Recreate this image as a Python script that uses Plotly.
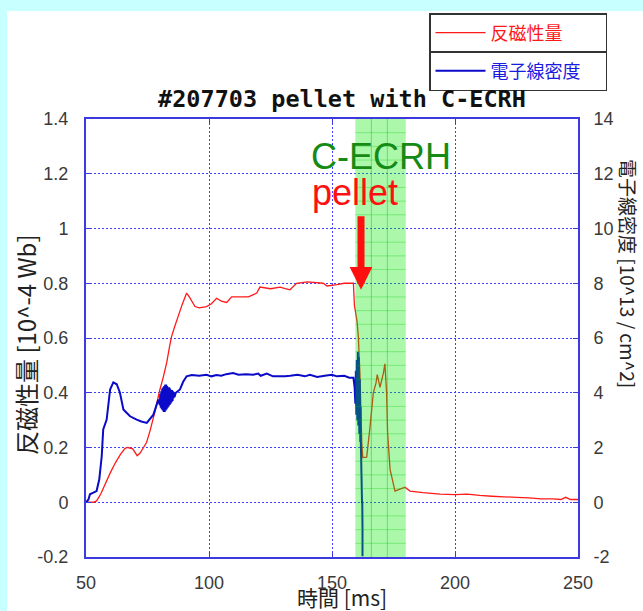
import plotly.graph_objects as go

# ---- data ----
t_red = [50, 53, 54.3, 56, 58, 60, 62, 64, 65.9, 67, 69, 70.8, 72, 74.6, 76, 78, 80, 81.5, 82.8, 84,
         84.8, 86, 87.5, 89, 90.9, 92, 94.3, 96, 99, 101, 103.1, 105, 107.2, 109.2, 112.6, 116, 119.4,
         120.7, 125, 128.9, 131, 132.9, 135.6, 140, 146.4, 148, 152, 155, 158.7, 159.1, 160.2, 160.7,
         161.4, 162.1, 162.5, 164.1, 165.4, 166.8, 167.9, 168.4, 169.5, 170.9, 171.5, 172.2, 172.6,
         173.6, 175.6, 177.6, 179.7, 181.7, 187, 193.9, 200, 205, 210, 215, 220, 225, 230, 235, 240,
         243, 245, 247, 250, 250]
v_red = [0, 0, 0.005, 0.03, 0.07, 0.11, 0.145, 0.175, 0.197, 0.2, 0.195, 0.17, 0.18, 0.218, 0.26,
         0.33, 0.41, 0.46, 0.51, 0.57, 0.606, 0.64, 0.68, 0.72, 0.764, 0.75, 0.715, 0.71, 0.715, 0.725,
         0.745, 0.735, 0.73, 0.75, 0.75, 0.75, 0.764, 0.786, 0.78, 0.786, 0.78, 0.776, 0.80, 0.805,
         0.80, 0.79, 0.795, 0.80, 0.80, 0.72, 0.66, 0.606, 0.46, 0.217, 0.163, 0.165, 0.27, 0.40,
         0.436, 0.466, 0.42, 0.472, 0.506, 0.40, 0.254, 0.12, 0.041, 0.048, 0.055, 0.041, 0.035, 0.03,
         0.028, 0.03, 0.025, 0.022, 0.02, 0.018, 0.016, 0.012, 0.012, 0.01, 0.018, 0.01, 0.01, 0.01]

t_blue = [50, 51, 51.6, 53, 54.3, 55.4, 56.4, 57, 58.4, 59.8, 61.1, 62.5, 63.8, 65.2, 66.5, 67.9,
          70.6, 72.5, 74.7, 77.4, 79.4,
          80.0, 80.2, 80.4, 80.6, 80.8, 81.0, 81.2, 81.4, 81.6, 81.8, 82.0, 82.2, 82.4, 82.6, 82.8,
          83.0, 83.2, 83.4, 83.6, 83.8, 84.0, 84.2, 84.4, 84.6, 84.8, 85.0, 85.2, 85.4, 85.6, 85.8,
          86.0, 86.5,
          88.2, 89.5, 90.9, 93, 96, 99, 101, 103, 105, 107, 109.8, 112, 115, 118, 120, 121, 123.5,
          126, 128.9, 131, 133, 136, 139, 141, 144, 147, 150, 152, 155, 157, 158.7, 159.2, 159.5,
          159.7, 159.9, 160.1, 160.3, 160.5, 160.7, 160.9, 161.1, 161.3, 161.5, 161.6, 161.7,
          162.2, 162.3, 162.4, 162.4]
v_blue = [0, 0.1, 0.29, 0.35, 0.41, 0.84, 1.69, 2.66, 3.02, 4.12, 4.38, 4.31, 4.0, 3.39, 3.27, 3.14,
          3.02, 2.95, 2.90, 3.2, 3.75,
          3.55, 3.95, 3.45, 4.05, 3.4, 4.15, 3.35, 4.2, 3.3, 4.25, 3.3, 4.3, 3.35, 4.3, 3.4,
          4.25, 3.45, 4.2, 3.5, 4.2, 3.55, 4.15, 3.6, 4.1, 3.65, 4.1, 3.7, 4.05, 3.8, 4.0,
          3.85, 4.0,
          4.12, 4.4, 4.6, 4.65, 4.62, 4.66, 4.6, 4.65, 4.62, 4.68, 4.72, 4.66, 4.68, 4.66, 4.7, 4.62,
          4.7, 4.6, 4.6, 4.6, 4.62, 4.66, 4.6, 4.66, 4.58, 4.62, 4.66, 4.6, 4.62, 4.55, 4.55, 4.2,
          3.6, 4.8, 3.2, 5.2, 3.0, 5.5, 2.8, 5.3, 2.5, 4.5, 2.2, 3.5, 2.3, 0.0, 0.0, -1.0, -1.97, -1.97]

x_ticks = [50, 100, 150, 200, 250]
y_left_ticks = [-0.2, 0, 0.2, 0.4, 0.6, 0.8, 1, 1.2, 1.4]
y_left_text = ["-0.2", "0", "0.2", "0.4", "0.6", "0.8", "1", "1.2", "1.4"]
y_right_ticks = [-2, 0, 2, 4, 6, 8, 10, 12, 14]
y_right_text = ["-2", "0", "2", "4", "6", "8", "10", "12", "14"]

ecrh_window = [159.5, 180.0]
ecrh_vgrid = [166.0, 172.5]
ecrh_hgrid = [-0.15, -0.1, -0.05, 0.05, 0.1, 0.15, 0.25, 0.3, 0.35, 0.45, 0.5, 0.55, 0.65, 0.7,
              0.75, 0.85, 0.9, 0.95, 1.05, 1.1, 1.15, 1.25, 1.3, 1.35]
pellet_time = 161.8
pellet_level = 0.776

AXC = "#3a3ae0"
GRIDC = "#4040ff"
TICKC = "#3a3a3a"
CJK = "Noto Sans CJK JP"
LAT = "Liberation Sans"

# plot area in pixels
L, R, T, B = 86, 578, 119, 557
PW, PH = R - L, B - T


def px(xp):
    return (xp - L) / PW


def py(yp):
    return (B - yp) / PH


fig = go.Figure()
fig.add_trace(go.Scatter(x=t_red, y=v_red, name="反磁性量", mode="lines",
                         line=dict(color="#ff1a1a", width=1.3, simplify=False), legend="legend"))
fig.add_trace(go.Scatter(x=t_blue, y=v_blue, name="電子線密度", mode="lines", yaxis="y2",
                         line=dict(color="#0a0ac8", width=2, simplify=False), legend="legend2"))

shapes = []
shapes.append(dict(type="rect", xref="paper", yref="paper", x0=px(7), x1=1.2,
                   y0=-0.3, y1=py(11), fillcolor="white", line=dict(width=0), layer="below"))
shapes.append(dict(type="rect", xref="x", yref="paper", x0=ecrh_window[0], x1=ecrh_window[1],
                   y0=0, y1=1, fillcolor="rgba(0,235,0,0.33)", line=dict(width=0), layer="above"))
for xv in ecrh_vgrid:
    shapes.append(dict(type="line", xref="x", yref="paper", x0=xv, x1=xv, y0=0, y1=1,
                       line=dict(color="rgba(0,200,0,0.45)", width=1), layer="above"))
for yv in ecrh_hgrid:
    shapes.append(dict(type="line", xref="x", yref="y", x0=ecrh_window[0], x1=ecrh_window[1],
                       y0=yv, y1=yv, line=dict(color="rgba(0,200,0,0.3)", width=1), layer="above"))

annotations = [
    dict(text="C-ECRH", x=169.9, y=1.262, xref="x", yref="y", showarrow=False,
         xanchor="center", yanchor="middle",
         font=dict(family=LAT, size=36, color="#158a15")),
    dict(text="pellet", x=159.3, y=1.13, xref="x", yref="y", showarrow=False,
         xanchor="center", yanchor="middle",
         font=dict(family=LAT, size=36, color="#ff1010")),
    dict(text="", x=pellet_time, y=pellet_level, xref="x", yref="y", showarrow=True,
         ax=0, ay=-75, arrowhead=2, arrowwidth=7, arrowsize=0.65, arrowcolor="#ff1010"),
    dict(text="時間 [ms]", x=px(342), y=py(597), xref="paper", yref="paper",
         xanchor="center", yanchor="middle",
         showarrow=False, font=dict(family=CJK, size=21, color="#222")),
    dict(text="反磁性量 [10^-4 Wb]", x=px(25), y=py(345), xref="paper", yref="paper",
         xanchor="center", yanchor="middle", textangle=-90,
         showarrow=False, font=dict(family=CJK, size=24, color="#222")),
    dict(text="電子線密度 [10^13 / cm^2]", x=px(629), y=py(273),
         xref="paper", yref="paper", showarrow=False, textangle=90,
         xanchor="center", yanchor="middle",
         font=dict(family=CJK, size=19, color="#222")),
]

fig.update_layout(
    width=643, height=611,
    margin=dict(l=L, r=643 - R, t=T, b=611 - B),
    paper_bgcolor="#c8ffff", plot_bgcolor="white",
    shapes=shapes, annotations=annotations, showlegend=True,
    title=dict(text="#207703 pellet with C-ECRH", x=342 / 643, xanchor="center",
               y=1 - 99 / 611, yanchor="middle", xref="container", yref="container",
               font=dict(family="DejaVu Sans Mono", size=23.5, color="#111", weight="bold")),
    xaxis=dict(range=[50, 250], tickvals=x_ticks, ticktext=[str(v) for v in x_ticks],
               showline=True, linecolor=AXC, linewidth=2, mirror="ticks",
               ticks="inside", ticklen=5, tickcolor=AXC, tickwidth=1,
               showgrid=True, gridcolor=GRIDC, griddash="2px,2px", gridwidth=1,
               zeroline=False, ticklabelstandoff=8,
               tickfont=dict(family=LAT, size=18, color=TICKC)),
    yaxis=dict(range=[-0.2, 1.4], tickvals=y_left_ticks, ticktext=y_left_text,
               showline=True, linecolor=AXC, linewidth=2,
               ticks="inside", ticklen=5, tickcolor=AXC, tickwidth=1,
               showgrid=True, gridcolor=GRIDC, griddash="2px,2px", gridwidth=1,
               zeroline=False, ticklabelstandoff=12,
               tickfont=dict(family=LAT, size=18, color=TICKC)),
    yaxis2=dict(range=[-2, 14], tickvals=y_right_ticks, ticktext=y_right_text,
                overlaying="y", side="right", showline=True, linecolor=AXC, linewidth=2,
                ticks="inside", ticklen=5, tickcolor=AXC, tickwidth=1,
                showgrid=False, zeroline=False, ticklabelstandoff=10,
                tickfont=dict(family=LAT, size=18, color=TICKC)),
    legend=dict(x=px(429), y=py(13), xanchor="left", yanchor="top",
                bgcolor="white", bordercolor="#333", borderwidth=1.5, itemwidth=50,
                orientation="h", entrywidth=110, entrywidthmode="pixels",
                font=dict(family=CJK, size=18, color="#ff1a1a")),
    legend2=dict(x=px(429), y=py(51), xanchor="left", yanchor="top",
                 bgcolor="white", bordercolor="#333", borderwidth=1.5, itemwidth=50,
                 orientation="h", entrywidth=110, entrywidthmode="pixels",
                 font=dict(family=CJK, size=18, color="#1a1ae0")),
)

fig.write_html("out.html")
